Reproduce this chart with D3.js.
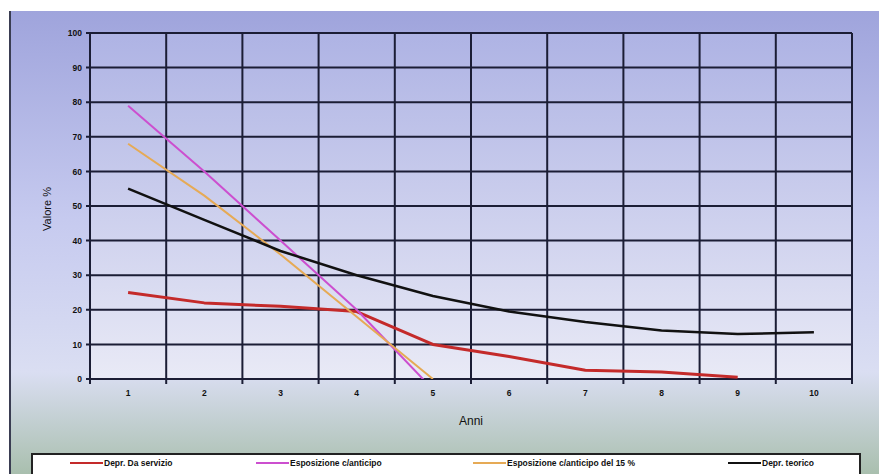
<!DOCTYPE html>
<html>
<head>
<meta charset="utf-8">
<script src="https://cdn.jsdelivr.net/npm/d3@7"></script>
<style>
  body { margin: 0; background: #fff; }
  svg { display: block; font-family: "Liberation Sans", Arial, sans-serif; }
</style>
</head>
<body>
<svg id="chart"></svg>
<script>
// Data
const years = [1, 2, 3, 4, 5, 6, 7, 8, 9, 10];
const yTicks = [0, 10, 20, 30, 40, 50, 60, 70, 80, 90, 100];
const seriesNames = ['Depr. Da servizio', 'Esposizione c/anticipo', 'Esposizione c/anticipo del 15 %', 'Depr. teorico'];
const deprServizio = [25, 22, 21, 19.5, 10, 6.5, 2.5, 2, 0.5];
const esposizione = [79, 60, 40, 20, -3];
const esposizione15 = [68, 53, 36, 18, 0];
const deprTeorico = [55, 46, 37, 30, 24, 19.5, 16.5, 14, 13, 13.5];
const seriesColors = ['#c42a2a', '#cc4fcf', '#e6aa55', '#111111'];
const seriesWidths = [3, 2, 2, 2.5];

const width = 879, height = 474;
const margin = {top: 33, right: 27, bottom: 95, left: 90};
const w = width - margin.left - margin.right;
const h = height - margin.top - margin.bottom;

const svg = d3.select('#chart').attr('width', width).attr('height', height);
const defs = svg.append('defs');

// background gradients
const outer = defs.append('linearGradient').attr('id', 'outerBg')
    .attr('x1', 0).attr('y1', 0).attr('x2', 0).attr('y2', 1);
outer.append('stop').attr('offset', '0%').attr('stop-color', '#9fa4dc');
outer.append('stop').attr('offset', '45%').attr('stop-color', '#c6caef');
outer.append('stop').attr('offset', '78%').attr('stop-color', '#dadef2');
outer.append('stop').attr('offset', '100%').attr('stop-color', '#a9bfae');

const inner = defs.append('linearGradient').attr('id', 'innerBg')
    .attr('x1', 0).attr('y1', 0).attr('x2', 0).attr('y2', 1);
inner.append('stop').attr('offset', '0%').attr('stop-color', '#aeb3e4');
inner.append('stop').attr('offset', '100%').attr('stop-color', '#e9eaf6');

defs.append('clipPath').attr('id', 'plotClip')
  .append('rect').attr('x', 0).attr('y', -5).attr('width', w).attr('height', h + 5);

svg.append('rect').attr('x', 10).attr('y', 11).attr('width', width - 10).attr('height', height - 11)
    .attr('fill', 'url(#outerBg)');
svg.append('line').attr('x1', 10).attr('x2', 10).attr('y1', 11).attr('y2', height)
    .attr('stroke', '#3a3d52').attr('stroke-width', 2);

const g = svg.append('g').attr('transform', `translate(${margin.left},${margin.top})`);

// scales
const x = d3.scaleBand().domain(years).range([0, w]);
const y = d3.scaleLinear().domain([0, 100]).range([h, 0]);
const xc = d => x(d) + x.bandwidth() / 2;

g.append('rect').attr('width', w).attr('height', h).attr('fill', 'url(#innerBg)');

// grid
const bounds = years.map(d => x(d)).concat([w]);
g.append('g').selectAll('line').data(yTicks).join('line')
    .attr('x1', -4).attr('x2', w)
    .attr('y1', d => y(d)).attr('y2', d => y(d))
    .attr('stroke', '#1b1d35').attr('stroke-width', 2);
g.append('g').selectAll('line').data(bounds).join('line')
    .attr('x1', d => d).attr('x2', d => d)
    .attr('y1', 0).attr('y2', h + 5)
    .attr('stroke', '#1b1d35').attr('stroke-width', 2);

// axes labels
const yAxis = d3.axisLeft(y).tickValues(yTicks).tickSize(0).tickPadding(8);
g.append('g').call(yAxis)
    .call(a => a.select('.domain').remove())
    .selectAll('text').attr('font-size', 8.5).attr('fill', '#111').attr('font-weight', 'bold');

const xAxis = d3.axisBottom(x).tickSize(0).tickPadding(11);
g.append('g').attr('transform', `translate(0,${h})`).call(xAxis)
    .call(a => a.select('.domain').remove())
    .selectAll('text').attr('font-size', 8.5).attr('fill', '#111').attr('font-weight', 'bold');

svg.append('text').attr('x', margin.left + w / 2).attr('y', 425)
    .attr('text-anchor', 'middle').attr('font-size', 12).attr('fill', '#111')
    .text('Anni');
svg.append('text').attr('transform', `translate(51,${margin.top + 176}) rotate(-90)`)
    .attr('text-anchor', 'middle').attr('font-size', 11).attr('fill', '#111')
    .text('Valore %');

// lines
const line = d3.line().x((d, i) => xc(years[i])).y(d => y(d));
const allSeries = [deprServizio, esposizione, esposizione15, deprTeorico];
const lines = g.append('g').attr('clip-path', 'url(#plotClip)');
lines.selectAll('path').data(allSeries).join('path')
    .attr('d', line)
    .attr('fill', 'none')
    .attr('stroke', (d, i) => seriesColors[i])
    .attr('stroke-width', (d, i) => seriesWidths[i])
    .attr('stroke-linejoin', 'round');

// legend
const legend = svg.append('g');
legend.append('rect').attr('x', 32).attr('y', 454).attr('width', 828).attr('height', 30)
    .attr('fill', '#fff').attr('stroke', '#222').attr('stroke-width', 2);
const legendX = [70, 256, 473, 728];
const item = legend.selectAll('g.item').data(seriesNames).join('g')
    .attr('class', 'item')
    .attr('transform', (d, i) => `translate(${legendX[i]},463)`);
item.append('line').attr('x1', 0).attr('x2', 33)
    .attr('stroke', (d, i) => seriesColors[i]).attr('stroke-width', 2);
item.append('text').attr('x', 34).attr('dy', '0.35em')
    .attr('font-size', 8.5).attr('font-weight', 'bold').attr('fill', '#111')
    .text(d => d);
</script>
</body>
</html>
